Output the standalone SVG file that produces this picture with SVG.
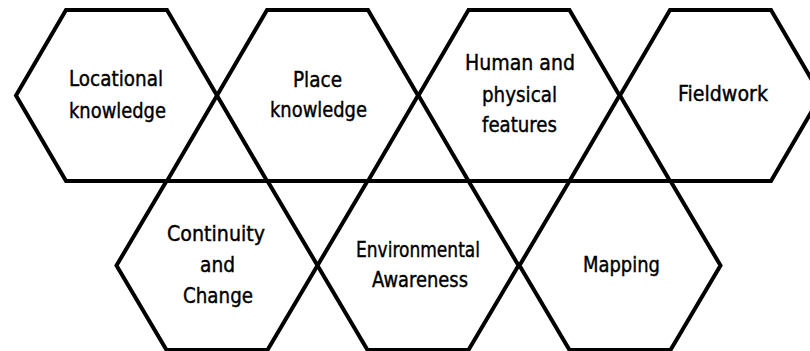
<svg xmlns="http://www.w3.org/2000/svg" width="810" height="351" viewBox="0 0 810 351">
<style>
.hex{fill:none;stroke:#000;stroke-width:4;stroke-linejoin:miter}
.t{font-family:"DejaVu Sans Condensed","DejaVu Sans","Liberation Sans",sans-serif;font-size:22px;fill:#000;stroke:#000;stroke-width:0.4;text-anchor:middle}
</style>
<rect width="810" height="351" fill="#fff"/>
<g id="locational">
<polygon class="hex" points="66,10 167,10 217,95.5 167,181 66,181 16,95.5"/>
<text class="t" x="116" y="86" textLength="94" lengthAdjust="spacingAndGlyphs">Locational</text>
<text class="t" x="117.5" y="118" textLength="97" lengthAdjust="spacingAndGlyphs">knowledge</text>
</g>
<g id="place">
<polygon class="hex" points="267,10 368,10 418,95.5 368,181 267,181 217,95.5"/>
<text class="t" x="317.5" y="87" textLength="49" lengthAdjust="spacingAndGlyphs">Place</text>
<text class="t" x="318.5" y="117" textLength="97" lengthAdjust="spacingAndGlyphs">knowledge</text>
</g>
<g id="human">
<polygon class="hex" points="468.5,10 569.5,10 619.5,95.5 569.5,181 468.5,181 418.5,95.5"/>
<text class="t" x="520" y="70" textLength="110" lengthAdjust="spacingAndGlyphs">Human and</text>
<text class="t" x="519.5" y="102" textLength="75" lengthAdjust="spacingAndGlyphs">physical</text>
<text class="t" x="519.5" y="132" textLength="75" lengthAdjust="spacingAndGlyphs">features</text>
</g>
<g id="fieldwork">
<polygon class="hex" points="670,10 771,10 821,95.5 771,181 670,181 620,95.5"/>
<text class="t" x="723" y="101" textLength="90" lengthAdjust="spacingAndGlyphs">Fieldwork</text>
</g>
<g id="continuity">
<polygon class="hex" points="166.5,181 267.5,181 317.5,265.5 267.5,350 166.5,350 116.5,265.5"/>
<text class="t" x="216" y="241" textLength="98" lengthAdjust="spacingAndGlyphs">Continuity</text>
<text class="t" x="217.5" y="272" textLength="35" lengthAdjust="spacingAndGlyphs">and</text>
<text class="t" x="218" y="303" textLength="70" lengthAdjust="spacingAndGlyphs">Change</text>
</g>
<g id="environmental">
<polygon class="hex" points="367.5,181 468.5,181 518.5,265.5 468.5,350 367.5,350 317.5,265.5"/>
<text class="t" x="418" y="257" textLength="124" lengthAdjust="spacingAndGlyphs">Environmental</text>
<text class="t" x="420" y="287" textLength="96" lengthAdjust="spacingAndGlyphs">Awareness</text>
</g>
<g id="mapping">
<polygon class="hex" points="569.5,181 670.5,181 720.5,265.5 670.5,350 569.5,350 519.5,265.5"/>
<text class="t" x="621.5" y="272" textLength="77" lengthAdjust="spacingAndGlyphs">Mapping</text>
</g>
</svg>
